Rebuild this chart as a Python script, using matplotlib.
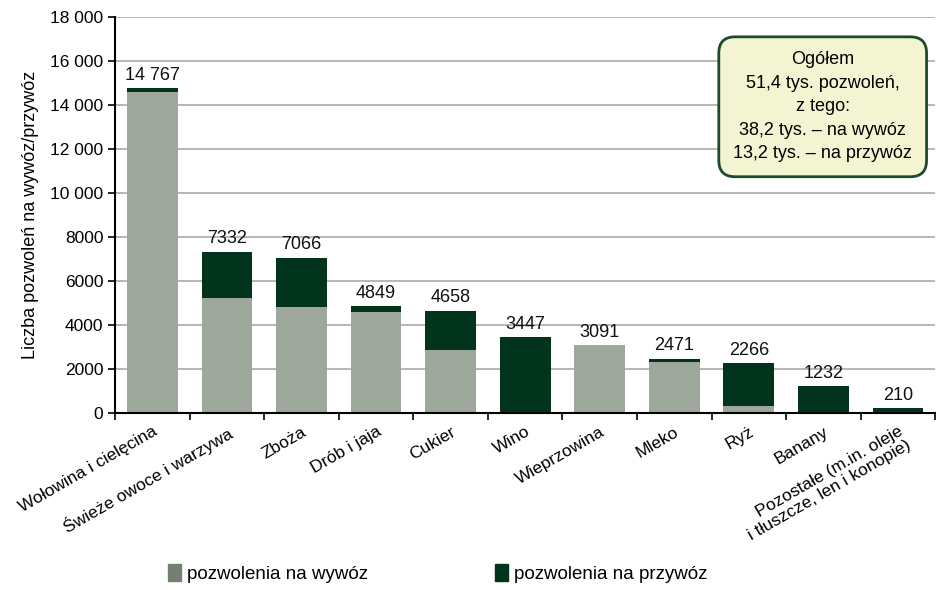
import matplotlib.pyplot as plt
from matplotlib.patches import Patch

categories = ['Wołowina i cielęcina', 'Świeże owoce i warzywa', 'Zboża', 'Drób i jaja',
              'Cukier', 'Wino', 'Wieprzowina', 'Mleko', 'Ryż', 'Banany',
              'Pozostałe (m.in. oleje\ni tłuszcze, len i konopie)']
totals = [14767, 7332, 7066, 4849, 4658, 3447, 3091, 2471, 2266, 1232, 210]
export = [14580, 5230, 4810, 4580, 2860, 0, 3091, 2300, 300, 0, 0]
imports = [t - e for t, e in zip(totals, export)]
yticks = [0, 2000, 4000, 6000, 8000, 10000, 12000, 14000, 16000, 18000]
ytick_labels = ['0', '2000', '4000', '6000', '8000', '10 000', '12 000', '14 000', '16 000', '18 000']

grey = '#9DA79B'
dark = '#02341D'
plt.rcParams['font.family'] = ['Liberation Sans', 'DejaVu Sans']

fig = plt.figure(figsize=(9.37, 5.9), dpi=100)
ax = fig.add_axes([0.123, 0.3, 0.875, 0.671])

x = range(len(categories))
ax.bar(x, export, width=0.68, color=grey, zorder=2)
ax.bar(x, imports, width=0.68, bottom=export, color=dark, zorder=2)
for i, t in enumerate(totals):
    lab = f'{t:,}'.replace(',', ' ') if t >= 10000 else str(t)
    ax.text(i, t + 200, lab, ha='center', va='bottom', fontsize=13, color='#111111')

ax.set_xlim(-0.5, len(categories) - 0.5)
ax.set_ylim(0, 18000)
ax.set_yticks(yticks)
ax.set_yticklabels(ytick_labels, fontsize=12.5)
ax.yaxis.grid(True, color='#AAAAAA', linewidth=1.2, zorder=0)
ax.set_xticks([i + 0.5 for i in range(-1, len(categories))], minor=False)
ax.set_xticklabels([])
ax.set_xticks(list(x), minor=True)
ax.set_xticklabels(categories, minor=True, rotation=30, ha='right', rotation_mode='anchor',
                   fontsize=12.5, linespacing=1.0)
ax.tick_params(axis='x', which='minor', length=0, pad=8)
ax.tick_params(axis='x', which='major', length=5, width=1.2, direction='out')
ax.tick_params(axis='y', length=5, width=1.2, direction='out')
for s in ['top', 'right']:
    ax.spines[s].set_visible(False)
for s in ['left', 'bottom']:
    ax.spines[s].set_linewidth(1.5)
ax.set_ylabel('Liczba pozwoleń na wywóz/przywóz', fontsize=13, labelpad=8)

fig.text(0.878, 0.819, 'Ogółem\n51,4 tys. pozwoleń,\nz tego:\n38,2 tys. – na wywóz\n13,2 tys. – na przywóz',
         ha='center', va='center', fontsize=13, linespacing=1.5,
         bbox=dict(boxstyle='round,pad=0.8,rounding_size=0.9', facecolor='#F3F5D2',
                   edgecolor='#1D4A2A', linewidth=2), zorder=5)

handles = [Patch(color='#748070'), Patch(color=dark)]
fig.legend(handles, ['pozwolenia na wywóz', 'pozwolenia na przywóz'], loc='center',
           bbox_to_anchor=(0.467, 0.028), ncol=2, frameon=False, fontsize=13.5,
           columnspacing=6.8, handlelength=0.7, handleheight=1.0, handletextpad=0.3)

fig.savefig('out.png', dpi=100)
